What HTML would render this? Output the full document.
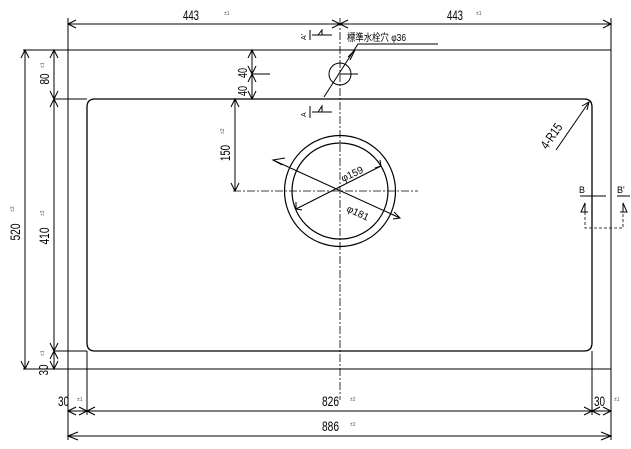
<!DOCTYPE html>
<html><head><meta charset="utf-8"><style>
html,body{margin:0;padding:0;background:#fff;}
svg{display:block;}
text{font-family:"Liberation Sans","Noto Sans CJK JP",sans-serif;fill:#000;}
.t{font-size:5px;fill:#555;}
</style></head><body>
<svg width="631" height="449" viewBox="0 0 631 449" xmlns="http://www.w3.org/2000/svg" stroke="#000" fill="none" stroke-width="1">
<line x1="23" y1="50" x2="611" y2="50"/>
<line x1="23" y1="369" x2="611" y2="369"/>
<line x1="68" y1="18" x2="68" y2="440"/>
<line x1="611" y1="18" x2="611" y2="440"/>
<line x1="54" y1="99" x2="87" y2="99"/>
<line x1="54" y1="351" x2="87" y2="351"/>
<path d="M95 99 H584 Q592 99 592 107 V343 Q592 351 584 351 H95 Q87 351 87 343 V107 Q87 99 95 99 Z" stroke-width="1.3"/>
<line x1="87" y1="351" x2="87" y2="415"/>
<line x1="592" y1="351" x2="592" y2="415"/>
<line x1="68" y1="24" x2="611" y2="24"/>
<path d="M76 20 L68 24 L76 28 M332 20 L340 24 L348 20 M332 28 L340 24 L348 28 M603 20 L611 24 L603 28"/>
<text x="183" y="20" font-size="14" textLength="16" lengthAdjust="spacingAndGlyphs" stroke="none">443</text><text x="224" y="15" class="t" stroke="none">±1</text>
<text x="447" y="20" font-size="14" textLength="16" lengthAdjust="spacingAndGlyphs" stroke="none">443</text><text x="476" y="15" class="t" stroke="none">±1</text>
<line x1="340" y1="18" x2="340" y2="400" stroke-dasharray="8,2,2,2" stroke-width="0.8"/>
<line x1="233" y1="191" x2="418" y2="191" stroke-dasharray="8,2,2,2" stroke-width="0.8"/>
<path d="M310 40 V30 M312 35 H332 M318 35 L322 30 V35"/>
<path d="M310 118 V106 M312 112 H332 M318 112 L322 106 V112"/>
<text x="306" y="40" font-size="7" stroke="none" transform="rotate(-90 306 40)">A'</text>
<text x="306" y="117" font-size="7" stroke="none" transform="rotate(-90 306 117)">A</text>
<circle cx="340" cy="74" r="11"/>
<line x1="340" y1="74" x2="358" y2="74"/>
<path d="M324 97 L358 44 H438"/>
<path d="M350 60 L355 50 L348 57"/>
<text x="347" y="41" font-size="10" textLength="59" lengthAdjust="spacingAndGlyphs" stroke="none">標準水栓穴 φ36</text>
<line x1="252" y1="50" x2="252" y2="99"/>
<line x1="252" y1="74" x2="270" y2="74"/>
<path d="M248 58 L252 50 L256 58 M248 66 L252 74 L256 66 M248 82 L252 74 L256 82 M248 91 L252 99 L256 91"/>
<text x="247" y="73" font-size="13" textLength="10" lengthAdjust="spacingAndGlyphs" stroke="none" transform="rotate(-90 247 73)" text-anchor="middle">40</text>
<text x="247" y="91" font-size="13" textLength="10" lengthAdjust="spacingAndGlyphs" stroke="none" transform="rotate(-90 247 91)" text-anchor="middle">40</text>
<line x1="235" y1="99" x2="235" y2="191"/>
<path d="M231 107 L235 99 L239 107 M231 183 L235 191 L239 183"/>
<text x="230" y="153" font-size="14" textLength="16" lengthAdjust="spacingAndGlyphs" stroke="none" transform="rotate(-90 230 153)" text-anchor="middle">150</text>
<text x="224" y="134" class="t" stroke="none" transform="rotate(-90 224 134)">±2</text>
<circle cx="340" cy="191" r="55.5" stroke-width="1.2"/>
<circle cx="340" cy="191" r="48" stroke-width="1.2"/>
<line x1="273" y1="160" x2="400" y2="218"/>
<line x1="296" y1="209" x2="381" y2="166"/>
<path d="M380 160 L381 166 L375 168 M296 202 L296 209 L302 210 M394 212 L400 218 L393 219 M285 158 L273 160 L282 165"/>
<text x="343" y="182" font-size="10" stroke="none" transform="rotate(-25 343 182)">φ159</text>
<text x="346" y="211" font-size="10" stroke="none" transform="rotate(25 346 211)">φ181</text>
<line x1="556" y1="150" x2="589" y2="102"/>
<path d="M582 106 L589 102 L587 110"/>
<text x="547" y="150" font-size="13" textLength="28" lengthAdjust="spacingAndGlyphs" stroke="none" transform="rotate(-55 547 150)">4-R15</text>
<path d="M580 196 H606 M617 196 H630"/>
<text x="579" y="193" font-size="9" stroke="none">B</text>
<text x="617" y="193" font-size="9" stroke="none">B'</text>
<path d="M585 212 V203 L581 212 H588 M623 212 V203 L627 212 H620"/>
<path d="M585 212 V228 H623 V212" stroke-dasharray="3,2" stroke-width="0.8"/>
<line x1="25" y1="50" x2="25" y2="369"/>
<path d="M21 58 L25 50 L29 58 M21 361 L25 369 L29 361"/>
<text x="20" y="232" font-size="14" textLength="17" lengthAdjust="spacingAndGlyphs" stroke="none" transform="rotate(-90 20 232)" text-anchor="middle">520</text>
<text x="14" y="212" class="t" stroke="none" transform="rotate(-90 14 212)">±3</text>
<line x1="54" y1="50" x2="54" y2="369"/>
<path d="M50 58 L54 50 L58 58 M50 91 L54 99 L58 91 M50 107 L54 99 L58 107 M50 343 L54 351 L58 343 M50 359 L54 351 L58 359 M50 361 L54 369 L58 361"/>
<text x="49" y="79" font-size="13" textLength="11" lengthAdjust="spacingAndGlyphs" stroke="none" transform="rotate(-90 49 79)" text-anchor="middle">80</text>
<text x="44" y="68" class="t" stroke="none" transform="rotate(-90 44 68)">±1</text>
<text x="49" y="236" font-size="14" textLength="17" lengthAdjust="spacingAndGlyphs" stroke="none" transform="rotate(-90 49 236)" text-anchor="middle">410</text>
<text x="44" y="216" class="t" stroke="none" transform="rotate(-90 44 216)">±3</text>
<text x="48" y="370" font-size="13" textLength="11" lengthAdjust="spacingAndGlyphs" stroke="none" transform="rotate(-90 48 370)" text-anchor="middle">30</text>
<text x="44" y="356" class="t" stroke="none" transform="rotate(-90 44 356)">±1</text>
<line x1="68" y1="411" x2="611" y2="411"/>
<path d="M76 407 L68 411 L76 415 M79 407 L87 411 L79 415 M95 407 L87 411 L95 415 M584 407 L592 411 L584 415 M600 407 L592 411 L600 415 M603 407 L611 411 L603 415"/>
<text x="58" y="406" font-size="14" textLength="11" lengthAdjust="spacingAndGlyphs" stroke="none">30</text><text x="77" y="401" class="t" stroke="none">±1</text>
<text x="322" y="406" font-size="14" textLength="17" lengthAdjust="spacingAndGlyphs" stroke="none">826</text><text x="350" y="401" class="t" stroke="none">±2</text>
<text x="594" y="406" font-size="14" textLength="11" lengthAdjust="spacingAndGlyphs" stroke="none">30</text><text x="614" y="401" class="t" stroke="none">±1</text>
<line x1="68" y1="436" x2="611" y2="436"/>
<path d="M78 432 L68 436 L78 440 M601 432 L611 436 L601 440"/>
<text x="322" y="431" font-size="14" textLength="17" lengthAdjust="spacingAndGlyphs" stroke="none">886</text><text x="350" y="426" class="t" stroke="none">±2</text>
</svg>
</body></html>
